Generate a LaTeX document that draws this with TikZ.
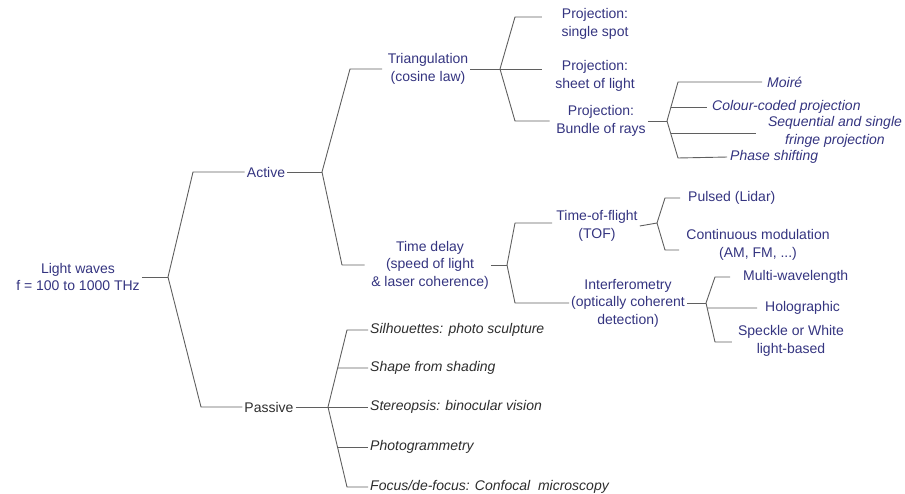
\documentclass[tikz,border=0pt]{standalone}
\usepackage{fontspec}
\setmainfont{Liberation Sans}
\usetikzlibrary{calc}
\definecolor{labelblue}{RGB}{52,52,128}
\definecolor{labelgrey}{RGB}{45,45,45}
\definecolor{wire}{RGB}{95,95,95}
\newcommand{\lblfont}{\fontsize{14}{17.5}\selectfont}
\begin{document}
\begin{tikzpicture}[x=1pt,y=-1pt,
  every node/.style={font=\lblfont, inner sep=2pt},
  act/.style={text=labelblue, align=center},
  acti/.style={text=labelblue, font=\lblfont\itshape},
  pas/.style={text=labelgrey, font=\lblfont\itshape, anchor=west},
  conn/.style={draw=wire, line width=0.9pt, line join=round},
  lgap/.style={shorten >=#1}]
\useasboundingbox (0,0) rectangle (905,494);

% ---- labels ----
\node[act] (root) at (78,277) {Light waves\\f = 100 to 1000 THz};
\node[act] (active) at (266,172) {Active};
\node[text=labelgrey] (passive) at (269,407) {Passive};

\node[act] (tri) at (428,69) {Triangulation\\(cosine law)};
\node[act] (delay) at (430,265) {Time delay\\(speed of light\\\& laser coherence)};

\node[act] (ps) at (595,24) {Projection:\\single spot};
\node[act] (psl) at (595,76) {Projection:\\sheet of light};
\node[act] (pb) at (601,121) {Projection:\\Bundle of rays};

\node[acti, anchor=west] (moire) at (765,82) {Moiré};
\node[acti, anchor=west] (colour) at (710,107) {Colour-coded projection};
\node[acti, align=center] (seq) at (835,132) {Sequential and single\\fringe projection};
\node[acti, anchor=west] (phase) at (728,157) {Phase shifting};

\node[act] (tof) at (597,226) {Time-of-flight\\(TOF)};
\node[act] (interf) at (628,303) {Interferometry\\(optically coherent\\detection)};
\node[act, anchor=west] (pulsed) at (686,198) {Pulsed (Lidar)};
\node[act] (cont) at (758,245) {Continuous modulation\\(AM, FM, ...)};
\node[act, anchor=west] (multi) at (741,277) {Multi-wavelength};
\node[act, anchor=west] (holo) at (763,308) {Holographic};
\node[act] (speckle) at (791,341) {Speckle or White\\light-based};

\node[pas] (sil) at (368,330) {Silhouettes: photo sculpture};
\node[pas] (shade) at (368,368) {Shape from shading};
\node[pas] (stereo) at (368,407) {Stereopsis: binocular vision};
\node[pas] (photo) at (368,447) {Photogrammetry};
\node[pas] (focus) at (368,487) {Focus/de-focus: Confocal\ \ microscopy};

% ---- branch points and bracket corners ----
\coordinate (b0) at (168,277);
\coordinate (b1) at (322,172);
\coordinate (b2) at (328,407);
\coordinate (b3) at (500,69);
\coordinate (b4) at (507,265);
\coordinate (b5) at (667,121);
\coordinate (b6) at (657,223);
\coordinate (b7) at (706,303);

\coordinate (k0a) at (193,172);
\coordinate (k0p) at (201,407);
\coordinate (k1t) at (350,69);
\coordinate (k1d) at (342,265);
\coordinate (k2t) at (347,330);
\coordinate (k2b) at (347,487);
\coordinate (k3t) at (515,17);
\coordinate (k3b) at (515,121);
\coordinate (k4t) at (515,223);
\coordinate (k4b) at (515,303);
\coordinate (k5t) at (678,82);
\coordinate (k5b) at (678,158);
\coordinate (k6t) at (665,198);
\coordinate (k6b) at (665,250);
\coordinate (k7t) at (715,277);
\coordinate (k7b) at (715,342);

\coordinate (m2a) at ($(b2)!{39/77}!(k2t)$);
\coordinate (m2b) at ($(b2)!{40/80}!(k2b)$);
\coordinate (m5a) at ($(b5)!{14/39}!(k5t)$);
\coordinate (m5b) at ($(b5)!{12/37}!(k5b)$);
\coordinate (m7) at ($(b7)!{5/39}!(k7b)$);

% ---- connectors ----
\draw[conn] (root.east) -- (b0);
\draw[conn] (b0) -- (k0a) -- (active.west);
\draw[conn] (b0) -- (k0p) -- (passive.west);

\draw[conn] (active.east) -- (b1);
\draw[conn, lgap=3.5pt] (b1) -- (k1t) -- (k1t -| tri.west);
\draw[conn, lgap=4.5pt] (b1) -- (k1d) -- (k1d -| delay.west);

\draw[conn] (tri.east) -- (b3);
\draw[conn, lgap=17.5pt] (b3) -- (k3t) -- (k3t -| ps.west);
\draw[conn, lgap=11.5pt] (b3) -- (b3 -| psl.west);
\draw[conn, lgap=4.5pt] (b3) -- (k3b) -- (k3b -| pb.west);

\draw[conn] (pb.east) -- (b5);
\draw[conn, lgap=3pt] (b5) -- (k5t) -- (moire.west);
\draw[conn, lgap=3pt] (m5a) -- (m5a -| colour.west);
\draw[conn, lgap=10pt] (m5b) -- (m5b -| seq.west);
\draw[conn, lgap=1pt] (b5) -- (k5b) -- (phase.west);

\draw[conn] (delay.east) -- (b4);
\draw[conn, lgap=2pt] (b4) -- (k4t) -- (k4t -| tof.west);
\draw[conn] (b4) -- (k4b) -- (k4b -| interf.west);

\draw[conn] (tof.east) -- (b6);
\draw[conn, lgap=6pt] (b6) -- (k6t) -- (pulsed.west);
\draw[conn, lgap=5pt] (b6) -- (k6b) -- (k6b -| cont.west);

\draw[conn] (interf.east) -- (b7);
\draw[conn, lgap=11pt] (b7) -- (k7t) -- (multi.west);
\draw[conn, lgap=6pt] (m7) -- (holo.west);
\draw[conn, lgap=4pt] (b7) -- (k7b) -- (k7b -| speckle.west);

\draw[conn] (passive.east) -- (b2);
\draw[conn] (b2) -- (k2t) -- (sil.west);
\draw[conn] (m2a) -- (shade.west);
\draw[conn] (b2) -- (stereo.west);
\draw[conn] (m2b) -- (photo.west);
\draw[conn] (b2) -- (k2b) -- (focus.west);
\end{tikzpicture}
\end{document}
